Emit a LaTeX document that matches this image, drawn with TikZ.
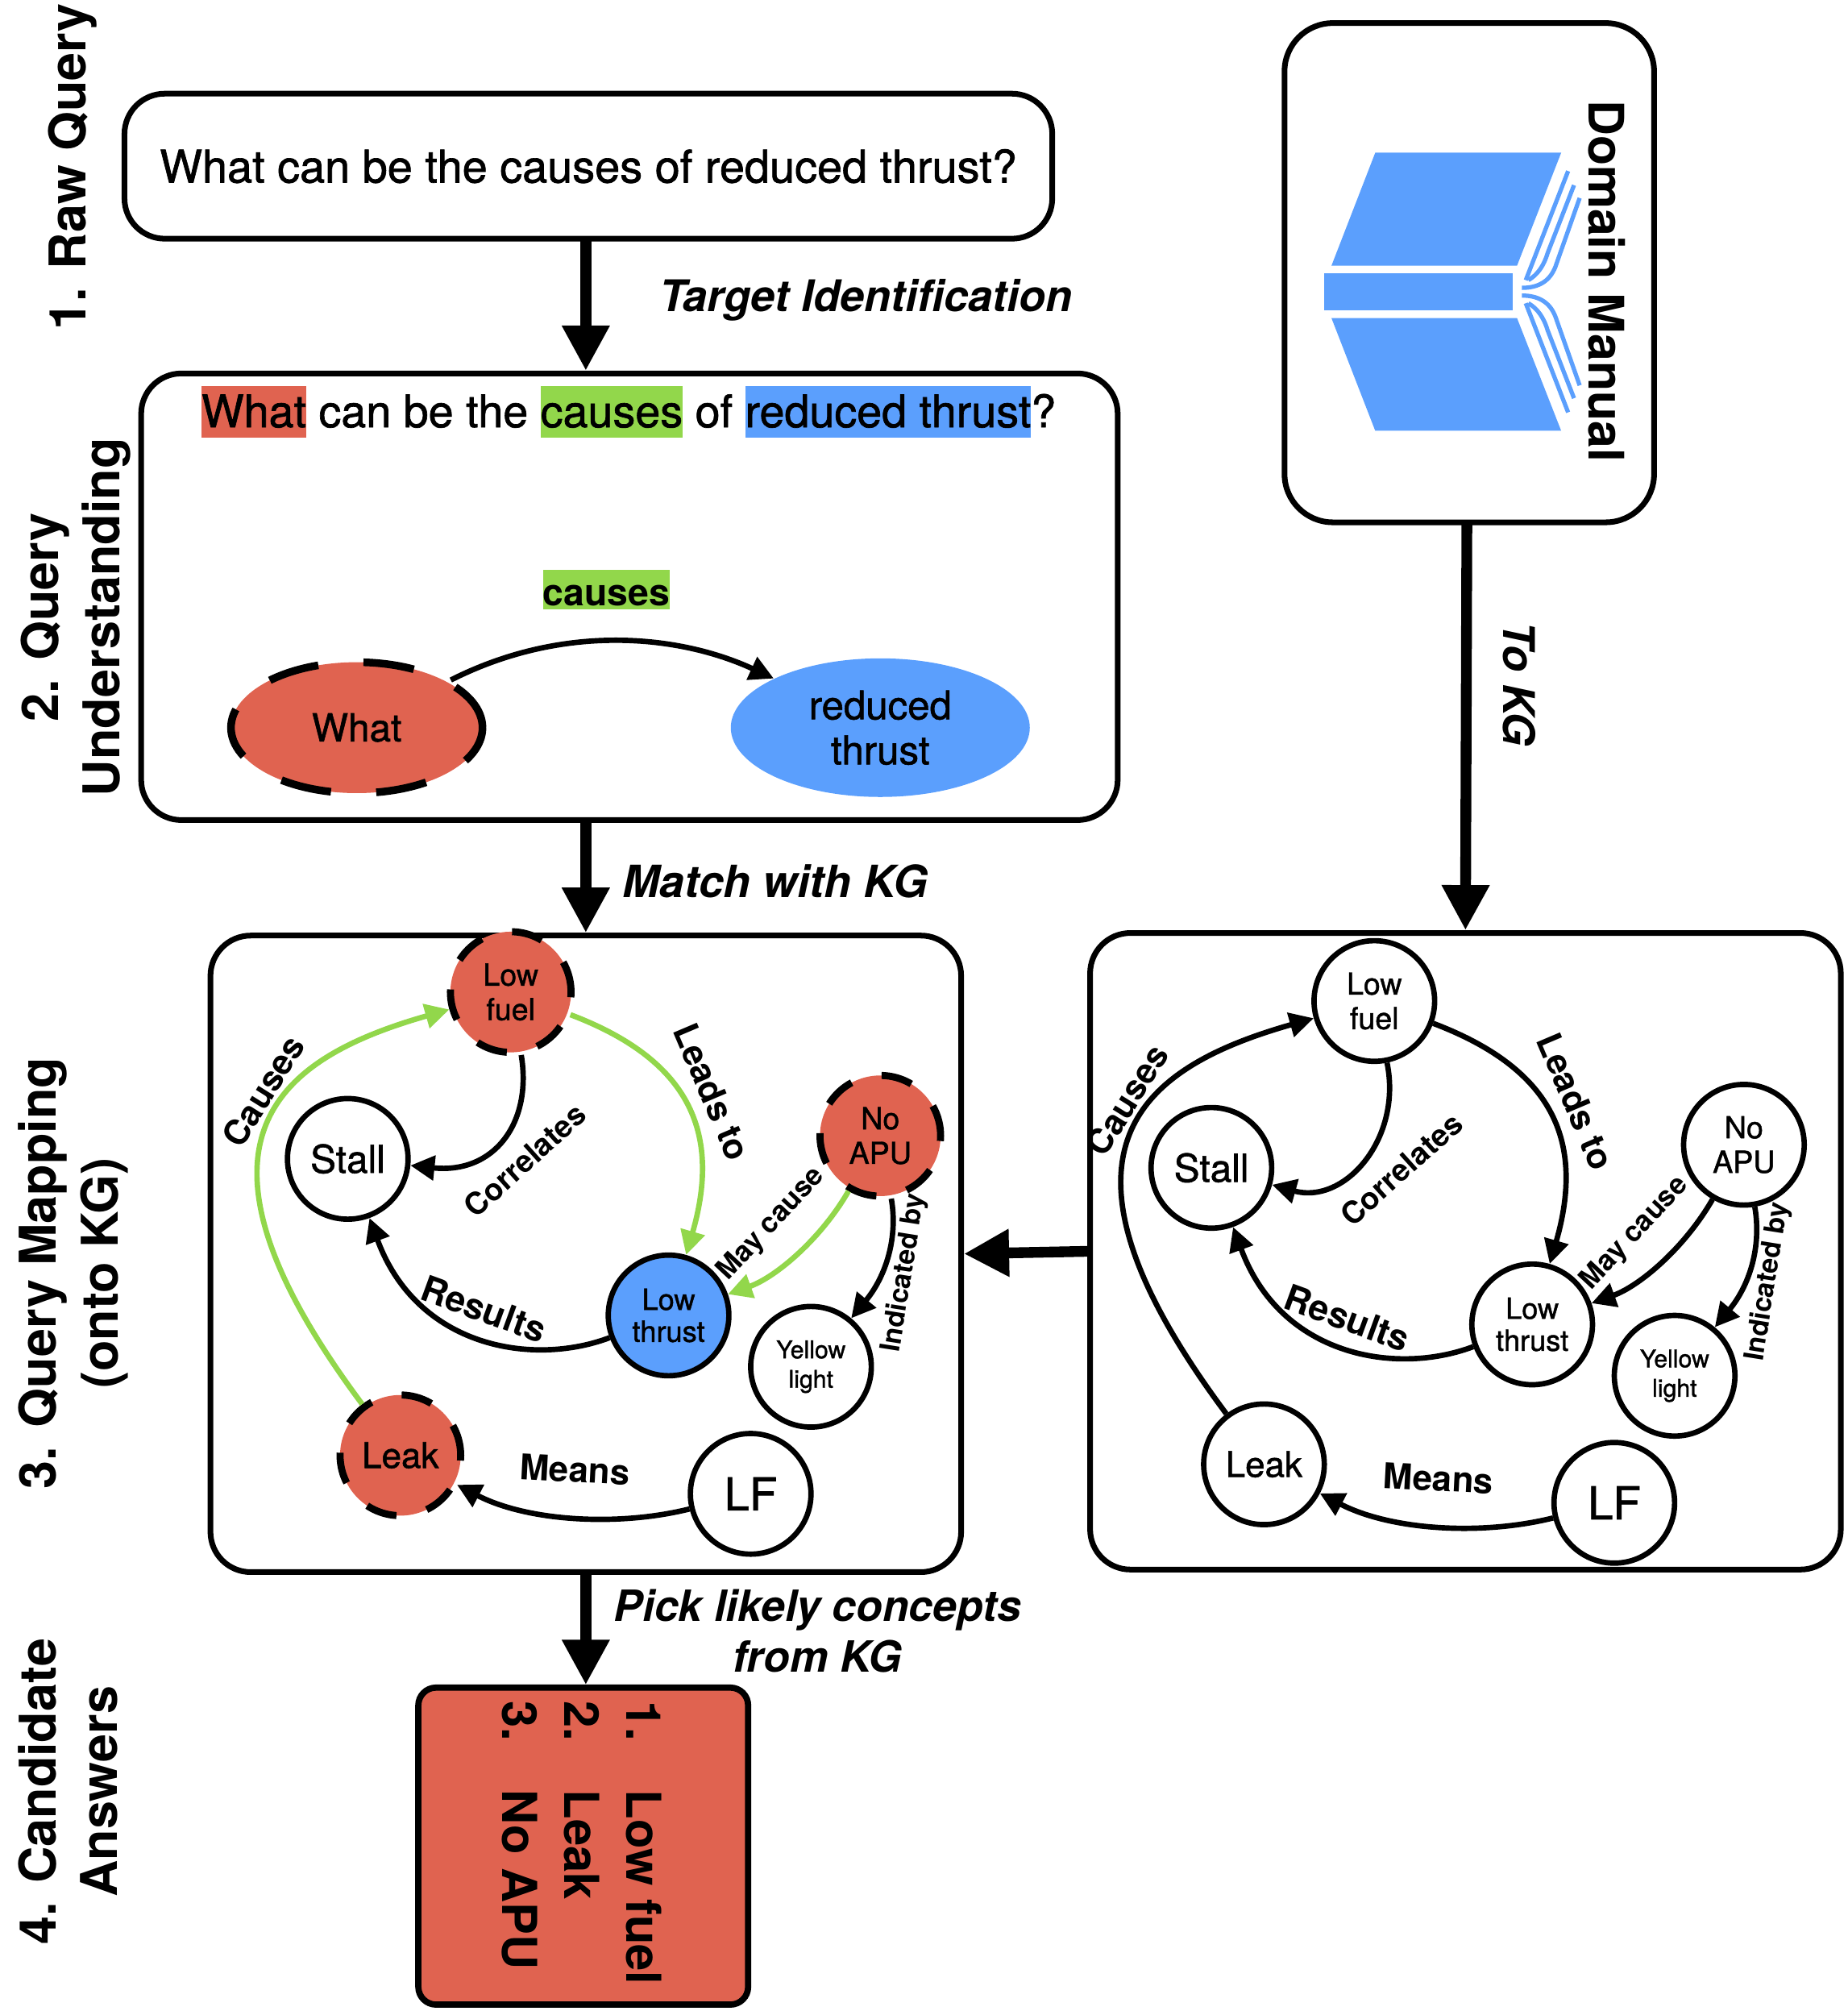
\documentclass[tikz,border=0pt]{standalone}
\usepackage{fontspec}
\setmainfont{TeX Gyre Heros}[UprightFeatures={FakeBold=1.2}]
\usetikzlibrary{arrows.meta,shapes.geometric}
\definecolor{kgred}{HTML}{E06350}
\definecolor{kgblue}{HTML}{5B9FFD}
\definecolor{kggreen}{HTML}{92D74B}
\newcommand{\unitpx}{0.015924cm}
\newcommand{\fsz}[2]{\fontsize{#1}{#2}\selectfont}
\newcommand{\hlword}[2]{{\fboxsep=0pt\colorbox{#1}{\rule[-3.6pt]{0pt}{18pt}#2}}}
\tikzset{
  panel/.style={draw,line width=2pt,outer sep=0pt,inner sep=0pt,rounded corners=0.5cm},
  bigarrow/.style={line width=3.8pt,-{Triangle[length=0.56cm,width=0.56cm]},shorten >=1pt},
  sidelabel/.style={rotate=90,align=center,font=\fsz{17.9}{21.7}\bfseries},
  steplabel/.style={align=center,font=\fsz{15.4}{17.8}\bfseries\itshape},
  kgnode/.style={circle,draw,line width=1.9pt,minimum size=94*\unitpx,inner sep=0pt,align=center,fill=white},
  kgnodered/.style={kgnode,fill=kgred,line width=2.5pt,dash pattern=on 11pt off 11pt},
  kgnodeblue/.style={kgnode,fill=kgblue},
  kgedge/.style={line width=1.9pt,-{Triangle[length=0.3cm,width=0.3cm]}},
  kgmatch/.style={kgedge,draw=kggreen},
  kglabel/.style={font=\bfseries,inner sep=0pt},
  bookpart/.style={fill=kgblue,draw=none},
  bookpage/.style={draw=kgblue,line width=1.5pt}
}
\begin{document}
\begin{tikzpicture}[x=0.015924cm,y=-0.015924cm]
  \useasboundingbox (0,0) rectangle (1440,1567);
  % boxes
  \node[panel,minimum width=723*\unitpx,minimum height=113*\unitpx] (rawbox) at (458.5,129.5) {\fsz{15.9}{19}What can be the causes of reduced thrust?};
  \node[panel,minimum width=761*\unitpx,minimum height=348*\unitpx] (querybox) at (490.5,465) {};
  \node[panel,minimum width=288*\unitpx,minimum height=389*\unitpx,rounded corners=0.6cm] (manualbox) at (1145,212.5) {};
  \node[panel,minimum width=585*\unitpx,minimum height=496*\unitpx] (kgbox) at (456.5,977) {};
  \node[panel,minimum width=585*\unitpx,minimum height=496*\unitpx] (kgrefbox) at (1142,975) {};
  \node[panel,fill=kgred,line width=2.2pt,minimum width=257*\unitpx,minimum height=247*\unitpx,rounded corners=0.22cm] (ansbox) at (454.5,1438.5) {};
  % side labels
  \node[sidelabel] (rawlabel) at (56.5,130) {1. Raw Query};
  \node[sidelabel] (querylabel) at (59,481) {2. Query\\Understanding};
  \node[sidelabel] (kglabel) at (57,992) {3. Query Mapping\\(onto KG)};
  \node[sidelabel] (anslabel) at (53,1396) {4. Candidate\\Answers};
  % query understanding
  \node[inner sep=0pt,font=\fsz{15.85}{19}] (sentence) at (490,321) {\hlword{kgred}{What} can be the \hlword{kggreen}{causes} of \hlword{kgblue}{reduced thrust}?};
  \node[fill=kggreen,inner sep=0pt,text height=12.7pt,text depth=1.4pt,font=\fsz{13.2}{16}\bfseries] (causes) at (472.5,459.5) {causes};
  \node[ellipse,fill=kgred,draw,line width=2.7pt,dash pattern=on 18pt off 16pt,minimum width=196*\unitpx,minimum height=102*\unitpx,inner sep=0pt,font=\fsz{13.6}{16}] (what) at (278,567) {What};
  \node[ellipse,fill=kgblue,minimum width=233*\unitpx,minimum height=108*\unitpx,inner sep=0pt,align=center,font=\fsz{14}{15.9}] (reduced) at (686,567) {reduced\\thrust};
  \draw[kgedge] (what) .. controls (440,485) and (530,495) .. (reduced);
  % book
  \fill[bookpart] (1071.7,119) -- (1216.6,119) -- (1182.2,207) -- (1037.6,207) -- cycle;
  \fill[bookpart] (1031.8,212.8) rectangle (1178.7,242.1);
  \fill[bookpart] (1037.6,247.9) -- (1182.2,247.9) -- (1216.6,335.7) -- (1071.7,335.7) -- cycle;
  \foreach \s in {1,-1} {
    \draw[bookpage] (1189,227.3-\s*9) -- (1222,227.3-\s*94);
    \draw[bookpage] (1191,227.3-\s*9) .. controls (1198,227.3-\s*13) and (1203,227.3-\s*20) .. (1206,227.3-\s*30) -- (1226.6,227.3-\s*83);
    \draw[bookpage] (1186,227.3-\s*3) .. controls (1200,227.3-\s*3) and (1209,227.3-\s*9) .. (1213,227.3-\s*22) -- (1231,227.3-\s*73);
  }
  \node[rotate=-90,font=\fsz{17.3}{20}\bfseries] (manuallabel) at (1252,219) {Domain Manual};
  % query mapping
  \begin{scope}
    \node[kgnodered,font=\fsz{10.7}{12.2}] (fuela) at (398,773) {Low\\fuel};
    \node[kgnode,font=\fsz{13.6}{16}] (stalla) at (271,903) {Stall};
    \node[kgnodered,font=\fsz{10.7}{12.2}] (apua) at (686,885) {No\\APU};
    \node[kgnodeblue,font=\fsz{10.3}{11.3}] (thrusta) at (521,1025) {Low\\thrust};
    \node[kgnode,font=\fsz{8.6}{10.4}] (yellowa) at (632,1065) {Yellow\\light};
    \node[kgnodered,font=\fsz{12.5}{15}] (leaka) at (312,1134) {Leak};
    \node[kgnode,font=\fsz{16}{19}] (lfa) at (585,1164) {LF};
    \draw[kgmatch] (leaka) .. controls (130,890) and (215,825) .. (fuela);
    \draw[kgmatch] (fuela) .. controls (535,825) and (563,880) .. (thrusta);
    \draw[kgedge] (fuela) .. controls (415,875) and (385,915) .. (stalla);
    \draw[kgedge] (thrusta) .. controls (415,1065) and (325,1050) .. (stalla);
    \draw[kgmatch] (apua) .. controls (640,965) and (605,995) .. (thrusta);
    \draw[kgedge] (apua) .. controls (700,965) and (690,995) .. (yellowa);
    \draw[kgedge] (lfa) .. controls (480,1190) and (410,1185) .. (leaka);
    \node[kglabel,rotate=58,font=\fsz{12.2}{15}\bfseries] (causesa) at (205,850) {Causes};
    \node[kglabel,rotate=-67,font=\fsz{12.4}{15}\bfseries] (leadsa) at (555,851) {Leads to};
    \node[kglabel,rotate=42,font=\fsz{10.8}{14}\bfseries] (correlatesa) at (409,904) {Correlates};
    \node[kglabel,rotate=47,font=\fsz{10}{12}\bfseries] (maya) at (601,954) {May cause};
    \node[kglabel,rotate=81,font=\fsz{9.7}{12}\bfseries] (indicateda) at (705,992) {Indicated by};
    \node[kglabel,rotate=-20,font=\fsz{12.7}{15}\bfseries] (resultsa) at (377,1020) {Results};
    \node[kglabel,rotate=-3,font=\fsz{12.5}{15}\bfseries] (meansa) at (448,1145) {Means};
  \end{scope}
  % kg from the manual
  \begin{scope}[shift={(673,7)}]
    \node[kgnode,font=\fsz{10.7}{12.2}] (fuelb) at (398,773) {Low\\fuel};
    \node[kgnode,font=\fsz{13.6}{16}] (stallb) at (271,903) {Stall};
    \node[kgnode,font=\fsz{10.7}{12.2}] (apub) at (686,885) {No\\APU};
    \node[kgnode,font=\fsz{10.3}{11.3}] (thrustb) at (521,1025) {Low\\thrust};
    \node[kgnode,font=\fsz{8.6}{10.4}] (yellowb) at (632,1065) {Yellow\\light};
    \node[kgnode,font=\fsz{12.5}{15}] (leakb) at (312,1134) {Leak};
    \node[kgnode,font=\fsz{16}{19}] (lfb) at (585,1164) {LF};
    \draw[kgedge] (leakb) .. controls (130,890) and (215,825) .. (fuelb);
    \draw[kgedge] (fuelb) .. controls (535,825) and (563,880) .. (thrustb);
    \draw[kgedge] (fuelb) .. controls (420,880) and (375,932) .. (stallb);
    \draw[kgedge] (thrustb) .. controls (415,1065) and (325,1050) .. (stallb);
    \draw[kgedge] (apub) .. controls (640,965) and (605,995) .. (thrustb);
    \draw[kgedge] (apub) .. controls (700,965) and (690,995) .. (yellowb);
    \draw[kgedge] (lfb) .. controls (480,1190) and (410,1185) .. (leakb);
    \node[kglabel,rotate=58,font=\fsz{12.2}{15}\bfseries] (causesb) at (205,850) {Causes};
    \node[kglabel,rotate=-67,font=\fsz{12.4}{15}\bfseries] (leadsb) at (555,851) {Leads to};
    \node[kglabel,rotate=42,font=\fsz{10.8}{14}\bfseries] (correlatesb) at (419,904) {Correlates};
    \node[kglabel,rotate=47,font=\fsz{10}{12}\bfseries] (mayb) at (601,954) {May cause};
    \node[kglabel,rotate=81,font=\fsz{9.7}{12}\bfseries] (indicatedb) at (705,992) {Indicated by};
    \node[kglabel,rotate=-20,font=\fsz{12.7}{15}\bfseries] (resultsb) at (377,1020) {Results};
    \node[kglabel,rotate=-3,font=\fsz{12.5}{15}\bfseries] (meansb) at (448,1145) {Means};
  \end{scope}
  % answers
  \node[rotate=-90,inner sep=0pt,font=\fsz{17}{21.9}\bfseries] (answers) at (449.5,1436) {%
    \begin{tabular}{@{}l@{\hskip 0.61cm}l@{}}1.&Low fuel\\2.&Leak\\3.&No APU\end{tabular}};
  % steps
  \draw[bigarrow] (kgbox.north |- rawbox.south) -- (kgbox.north |- querybox.north);
  \draw[bigarrow] (kgbox.north |- querybox.south) -- (kgbox.north);
  \draw[bigarrow] (kgbox.south) -- (kgbox.south |- ansbox.north);
  \draw[bigarrow] ([xshift=-0.03cm]manualbox.south) -- (kgrefbox.north);
  \draw[bigarrow] (kgrefbox.west) -- (kgbox.east);
  \node[steplabel] (targetlabel) at (675,234) {Target Identification};
  \node[steplabel,font=\fsz{15.7}{17.8}\bfseries\itshape] (matchlabel) at (604,687) {Match with KG};
  \node[steplabel,font=\fsz{15.2}{17.8}\bfseries\itshape] (picklabel) at (637,1271) {Pick likely concepts\\from KG};
  \node[steplabel,rotate=-90] (tokglabel) at (1184,533) {To KG};
\end{tikzpicture}
\end{document}
